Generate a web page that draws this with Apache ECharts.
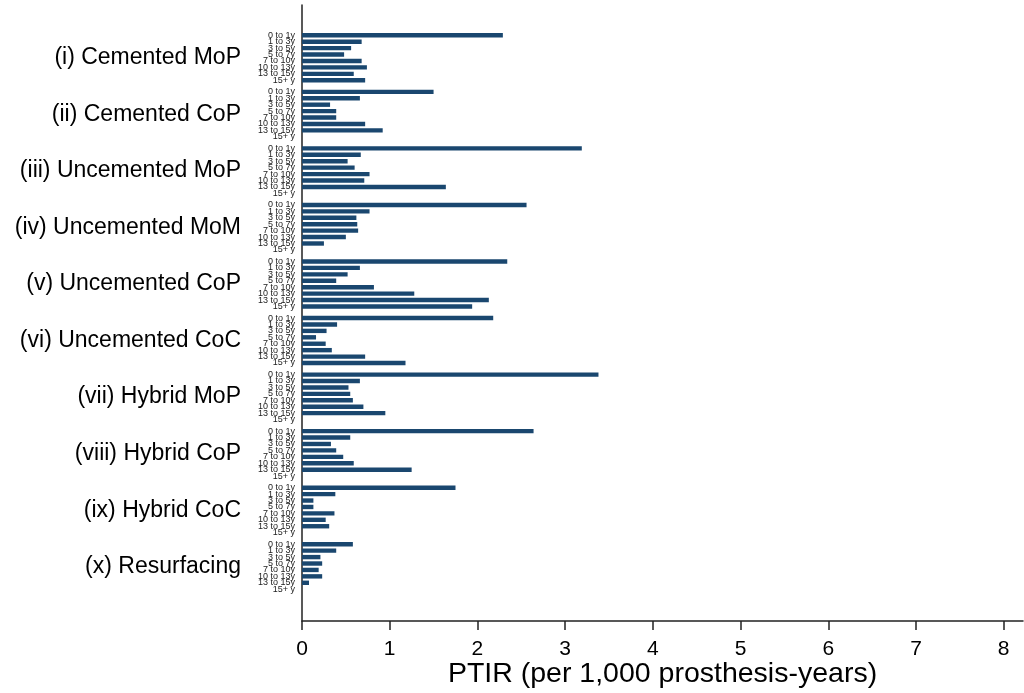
<!DOCTYPE html>
<html>
<head>
<meta charset="utf-8">
<title>PTIR by bearing type and time since implantation</title>
<script src="https://cdn.jsdelivr.net/npm/echarts@6/dist/echarts.min.js"></script>
<style>
    html, body {
        margin: 0;
        padding: 0;
        background: #fff;
    }

    #chart {
        width: 1024px;
        height: 693px;
    }
</style>
</head>
<body>
<div id="chart"></div>
<script>
// bearing groups (outer categories)
const groups = [
    '(i) Cemented MoP',
    '(ii) Cemented CoP',
    '(iii) Uncemented MoP',
    '(iv) Uncemented MoM',
    '(v) Uncemented CoP',
    '(vi) Uncemented CoC',
    '(vii) Hybrid MoP',
    '(viii) Hybrid CoP',
    '(ix) Hybrid CoC',
    '(x) Resurfacing',
];

// time since primary (inner categories)
const periods = ['0 to 1y', '1 to 3y', '3 to 5y', '5 to 7y', '7 to 10y', '10 to 13y', '13 to 15y', '15+ y'];

// PTIR per 1,000 prosthesis-years, one value per period (null = no bar)
const cementedMoP = [2.29, 0.68, 0.56, 0.48, 0.68, 0.74, 0.59, 0.72];
const cementedCoP = [1.50, 0.66, 0.32, 0.39, 0.39, 0.72, 0.92, null];
const uncementedMoP = [3.19, 0.67, 0.52, 0.60, 0.77, 0.71, 1.64, null];
const uncementedMoM = [2.56, 0.77, 0.62, 0.63, 0.64, 0.50, 0.25, null];
const uncementedCoP = [2.34, 0.66, 0.52, 0.39, 0.82, 1.28, 2.13, 1.94];
const uncementedCoC = [2.18, 0.40, 0.28, 0.16, 0.27, 0.34, 0.72, 1.18];
const hybridMoP = [3.38, 0.66, 0.53, 0.55, 0.58, 0.70, 0.95, null];
const hybridCoP = [2.64, 0.55, 0.33, 0.39, 0.47, 0.59, 1.25, null];
const hybridCoC = [1.75, 0.38, 0.13, 0.13, 0.37, 0.27, 0.31, null];
const resurfacing = [0.58, 0.39, 0.21, 0.23, 0.19, 0.23, 0.08, null];

const groupValues = [cementedMoP, cementedCoP, uncementedMoP, uncementedMoM, uncementedCoP,
    uncementedCoC, hybridMoP, hybridCoP, hybridCoC, resurfacing];

const xTicks = [0, 1, 2, 3, 4, 5, 6, 7, 8];

const barColor = '#1a476f';
const axisColor = '#222';
const fontFamily = '"Liberation Sans", Arial, sans-serif';

function getSeries() {
    const series = [];
    for (let i = 0; i < periods.length; i++) {
        series.push({
            type: 'bar',
            name: periods[i],
            xAxisIndex: 1,
            yAxisIndex: 1,
            // missing rows keep their label, so draw them as zero-length bars
            data: groupValues.map((v) => (v[i] == null ? 0 : v[i])),
            barWidth: 4.4,
            barGap: '46%',
            itemStyle: {color: barColor},
            label: {
                show: true,
                position: 'left',
                distance: 7,
                formatter: '{a}',
                fontSize: 9,
                fontFamily: fontFamily,
                color: '#222',
            },
            silent: true,
        });
    }
    return series;
}

const chart = echarts.init(document.getElementById('chart'), null, {renderer: 'canvas'});
chart.setOption({
    animation: false,
    grid: [
        // outer frame: carries the visible axes
        {left: 302, right: 1, top: 5, bottom: 72, outerBoundsMode: 'none'},
        // inner: bars, inset like Stata's outer category gap
        {left: 302, right: 1, top: 29.5, bottom: 98, outerBoundsMode: 'none'},
    ],
    xAxis: [
        {
            gridIndex: 0,
            type: 'value',
            min: 0,
            max: 8.22,
            axisLine: {show: true, onZero: false, lineStyle: {color: axisColor, width: 1.5}},
            axisTick: {show: true, length: 9, customValues: xTicks, lineStyle: {color: axisColor, width: 1.5}},
            axisLabel: {
                customValues: xTicks,
                margin: 18,
                fontSize: 21,
                fontFamily: fontFamily,
                color: '#000',
            },
            splitLine: {show: false},
            name: 'PTIR (per 1,000 prosthesis-years)',
            nameLocation: 'middle',
            nameGap: 39,
            nameMoveOverlap: false,
            nameTextStyle: {fontSize: 28.5, fontFamily: fontFamily, color: '#000'},
        },
        {
            gridIndex: 1,
            type: 'value',
            min: 0,
            max: 8.22,
            show: false,
        },
    ],
    yAxis: [
        {
            gridIndex: 0,
            type: 'value',
            min: 0,
            max: 1,
            axisLine: {show: true, onZero: false, lineStyle: {color: axisColor, width: 1.5}},
            axisTick: {show: false},
            axisLabel: {show: false},
            splitLine: {show: false},
        },
        {
            gridIndex: 1,
            type: 'category',
            data: groups,
            inverse: true,
            axisLine: {show: false},
            axisTick: {show: false},
            axisLabel: {
                margin: 61,
                fontSize: 23,
                fontFamily: fontFamily,
                color: '#000',
            },
        },
    ],
    series: getSeries(),
});
</script>
</body>
</html>
